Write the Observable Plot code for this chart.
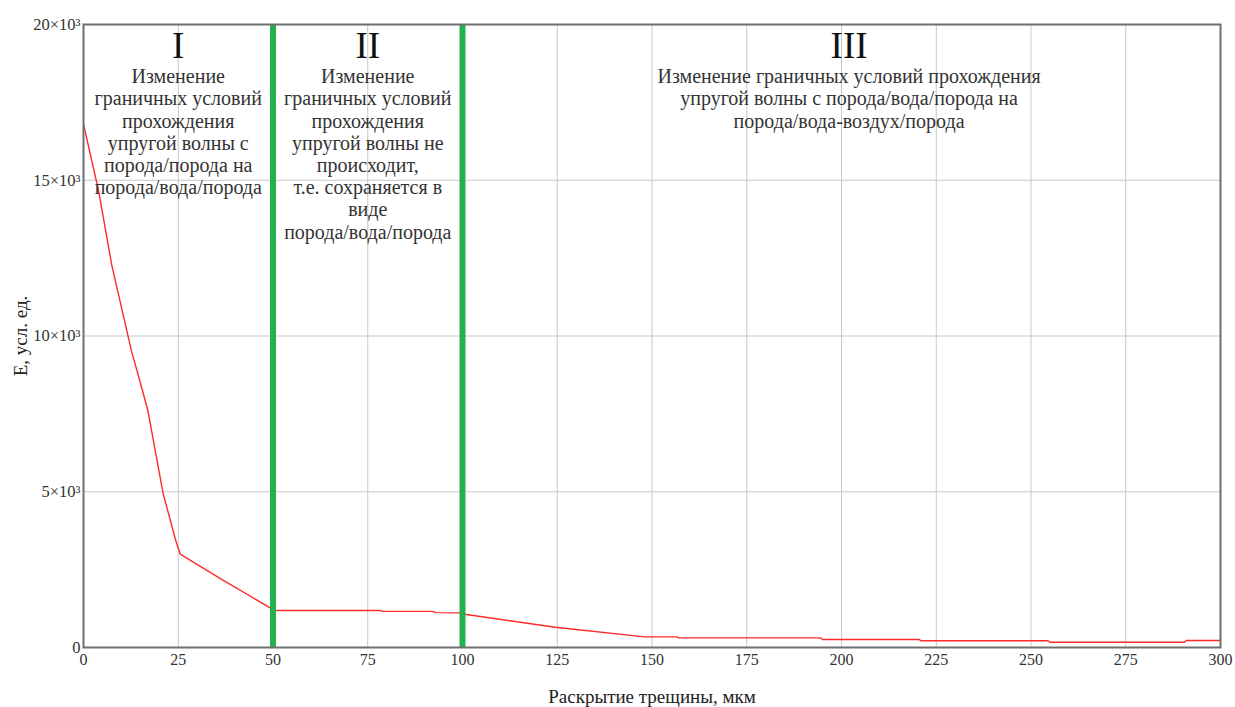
<!DOCTYPE html>
<html>
<head>
<meta charset="utf-8">
<script src="https://cdn.jsdelivr.net/npm/d3@7"></script>
<script src="https://cdn.jsdelivr.net/npm/@observablehq/plot@0.6"></script>
<style>
  html, body { margin: 0; padding: 0; background: #fff; }
  #chart svg { display: block; }
  #chart svg, #chart svg text { font-family: "Liberation Serif", "DejaVu Serif", serif !important; }
</style>
</head>
<body>
<div id="chart"></div>
<script>
// Crack opening, µm
const crackOpening = [0, 4, 7.5, 12.7, 15, 17, 21, 24.3, 25.5, 37, 49, 50, 78, 79, 92, 93, 100, 101, 124.5, 148, 156.5, 157, 194.5, 195, 220.5, 221, 254.5, 255, 290.5, 291, 300];
// Signal energy E, conventional units
const energy = [16800, 14650, 12250, 9500, 8500, 7600, 4950, 3450, 3000, 2150, 1290, 1190, 1190, 1160, 1160, 1120, 1110, 1060, 650, 340, 340, 310, 310, 257, 257, 215, 215, 170, 170, 225, 225];

// Zone boundaries (green rules)
const zoneBoundaries = [50, 100];

// Zone annotations
const zoneCenters = [25, 75, 202];
const zoneNumerals = ["I", "II", "III"];
const zoneTexts = [
  "Изменение\nграничных условий\nпрохождения\nупругой волны с\nпорода/порода на\nпорода/вода/порода",
  "Изменение\nграничных условий\nпрохождения\nупругой волны не\nпроисходит,\nт.е. сохраняется в\nвиде\nпорода/вода/порода",
  "Изменение граничных условий прохождения\nупругой волны с порода/вода/порода на\nпорода/вода-воздух/порода"
];

const xTicks = [0, 25, 50, 75, 100, 125, 150, 175, 200, 225, 250, 275, 300];
const yTicks = [0, 5000, 10000, 15000, 20000];

const curve = crackOpening.map((x, i) => ({x, e: energy[i]}));
const numerals = zoneCenters.map((x, i) => ({x, t: zoneNumerals[i]}));
const notes = zoneCenters.map((x, i) => ({x, t: zoneTexts[i]}));

const serif = "Liberation Serif, DejaVu Serif, serif";

const chart = Plot.plot({
  width: 1235,
  height: 707,
  marginLeft: 83,
  marginRight: 15,
  marginTop: 24,
  marginBottom: 60,
  style: {background: "#fff"},
  x: {domain: [0, 300]},
  y: {domain: [0, 20000]},
  marks: [
    Plot.gridX(xTicks, {stroke: "#c8c8c8", strokeOpacity: 1, strokeWidth: 1}),
    Plot.gridY(yTicks, {stroke: "#c8c8c8", strokeOpacity: 1, strokeWidth: 1}),
    Plot.axisX(xTicks, {
      tickSize: 0, tickPadding: 6, fontSize: 16, fill: "#333", fontFamily: serif,
      tickFormat: d => String(d),
      label: "Раскрытие трещины, мкм", labelAnchor: "center", labelArrow: "none", labelOffset: 55
    }),
    Plot.axisY(yTicks, {
      tickSize: 0, tickPadding: 3, fontSize: 16.5, fill: "#333", fontFamily: serif,
      tickFormat: d => d === 0 ? "0" : `${d / 1000}×10³`,
      label: "E, усл. ед.", labelAnchor: "center", labelArrow: "none", labelOffset: 70
    }),
    Plot.line(curve, {x: "x", y: "e", stroke: "#ff2a2a", strokeWidth: 1.4}),
    Plot.ruleX(zoneBoundaries, {stroke: "#22b14c", strokeWidth: 6}),
    Plot.frame({stroke: "#6e6e6e", strokeWidth: 2}),
    Plot.text(numerals, {x: "x", text: "t", frameAnchor: "top", dy: 22, lineAnchor: "middle", fontSize: 37, fill: "#111", fontFamily: serif}),
    Plot.text(notes, {x: "x", text: "t", frameAnchor: "top", dy: 43, lineAnchor: "top", lineHeight: 1.11, fontSize: 20, fill: "#333", fontFamily: serif})
  ]
});

chart.querySelectorAll("g[aria-label='x-axis label'] text, g[aria-label='y-axis label'] text").forEach(t => {
  t.setAttribute("font-size", "19");
  t.setAttribute("fill", "#222");
});
document.getElementById("chart").appendChild(chart);
</script>
</body>
</html>
